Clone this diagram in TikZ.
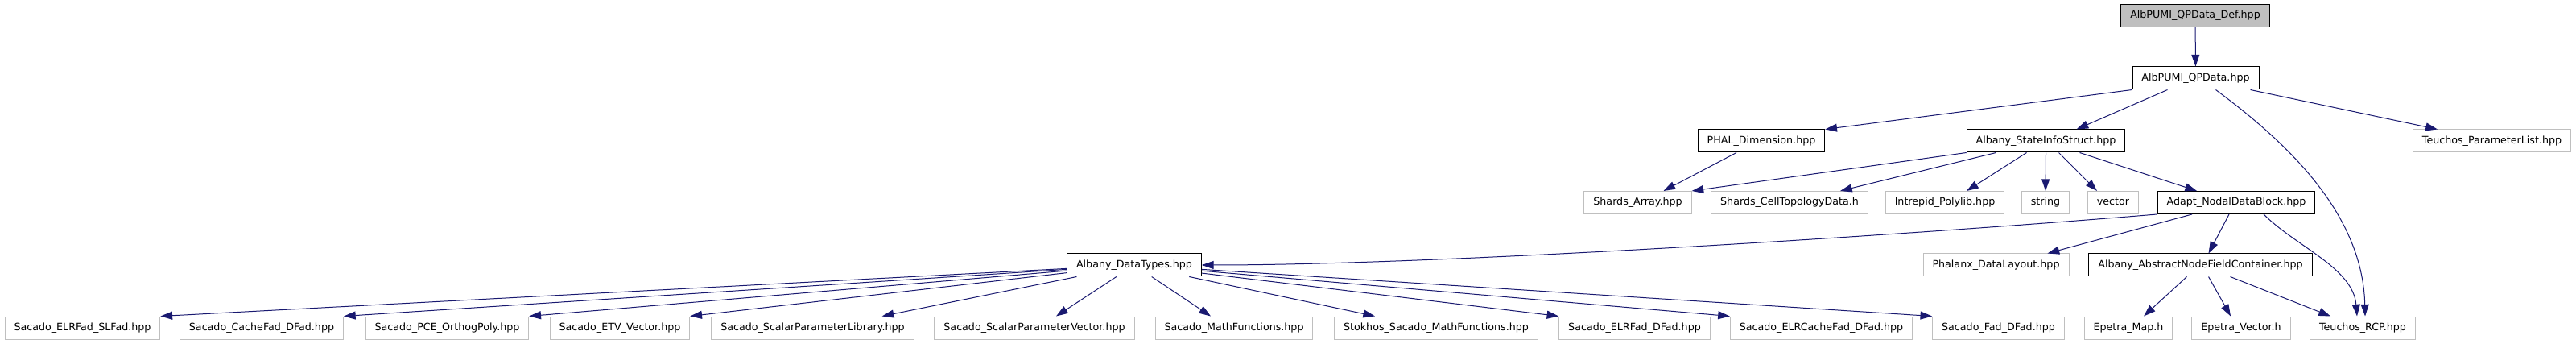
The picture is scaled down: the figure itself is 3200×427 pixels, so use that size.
\documentclass[tikz,border=0pt]{standalone}
\usepackage{fontspec}
\setmainfont{DejaVu Sans}
\usepackage{xcolor}
\usepackage{tikz}
\usetikzlibrary{arrows.meta,positioning,calc}
\definecolor{edgeblue}{RGB}{25,25,112}
\definecolor{boxgray}{RGB}{191,191,191}

\begin{document}
\begin{tikzpicture}[
      x=0.75pt, y=-0.75pt,
      basebox/.style={rectangle, draw=black, line width=0.75pt, inner xsep=8.6pt,
                      inner ysep=0pt, minimum height=21pt, text height=7pt,
                      text depth=2pt, font=\fontsize{9.5}{11}\selectfont},
      docfile/.style={basebox},
      extfile/.style={basebox, draw=boxgray},
      curfile/.style={basebox, fill=boxgray},
      dep/.style={-{Triangle[length=11pt, width=7.5pt]}, draw=edgeblue,
                  line width=0.75pt},
    ]
      \useasboundingbox (0,0) rectangle (3200,427);
      \node[curfile] (def) at (2727, 19.5) {AlbPUMI\_QPData\_Def.hpp};
      \node[docfile] (qpdata) at (2727.5, 97) {AlbPUMI\_QPData.hpp};
      \node[docfile] (phal) at (2188, 175) {PHAL\_Dimension.hpp};
      \node[docfile] (stateinfo) at (2541.5, 175) {Albany\_StateInfoStruct.hpp};
      \node[extfile] (paramlist) at (3095.5, 175) {Teuchos\_ParameterList.hpp};
      \node[extfile] (shardsarr) at (2034.5, 251.5) {Shards\_Array.hpp};
      \node[extfile] (celltopo) at (2223, 251.5) {Shards\_CellTopologyData.h};
      \node[extfile] (polylib) at (2416, 251.5) {Intrepid\_Polylib.hpp};
      \node[extfile] (stdstring) at (2541, 251.5) {string};
      \node[extfile] (stdvector) at (2625, 251.5) {vector};
      \node[docfile] (adapt) at (2778, 251.5) {Adapt\_NodalDataBlock.hpp};
      \node[docfile] (datatypes) at (1409, 329) {Albany\_DataTypes.hpp};
      \node[extfile] (phxlayout) at (2479.5, 329) {Phalanx\_DataLayout.hpp};
      \node[docfile] (nodefield) at (2733.5, 329)
            {Albany\_AbstractNodeFieldContainer.hpp};
      \node[extfile] (elrslfad) at (102.5, 407) {Sacado\_ELRFad\_SLFad.hpp};
      \node[extfile] (cachedfad) at (325, 407) {Sacado\_CacheFad\_DFad.hpp};
      \node[extfile] (pcepoly) at (555.5, 407) {Sacado\_PCE\_OrthogPoly.hpp};
      \node[extfile] (etvvec) at (770, 407) {Sacado\_ETV\_Vector.hpp};
      \node[extfile] (paramlib) at (1009.5, 407)
            {Sacado\_ScalarParameterLibrary.hpp};
      \node[extfile] (paramvec) at (1285, 407)
            {Sacado\_ScalarParameterVector.hpp};
      \node[extfile] (mathfn) at (1533, 407) {Sacado\_MathFunctions.hpp};
      \node[extfile] (stokhos) at (1784, 407)
            {Stokhos\_Sacado\_MathFunctions.hpp};
      \node[extfile] (elrdfad) at (2030.5, 407) {Sacado\_ELRFad\_DFad.hpp};
      \node[extfile] (elrcache) at (2262.5, 407) {Sacado\_ELRCacheFad\_DFad.hpp};
      \node[extfile] (faddfad) at (2482.5, 407) {Sacado\_Fad\_DFad.hpp};
      \node[extfile] (epmap) at (2644, 407) {Epetra\_Map.h};
      \node[extfile] (epvec) at (2784, 407) {Epetra\_Vector.h};
      \node[extfile] (rcp) at (2935, 407) {Teuchos\_RCP.hpp};
      \draw[dep] (def) -- (qpdata);
      \draw[dep] (qpdata.south west) -- (phal.north east);
      \draw[dep] ($(qpdata.south)+(-35,0)$) -- ($(stateinfo.north)+(38,0)$);
      \draw[dep] ($(qpdata.south)+(68,0)$) -- ($(paramlist.north west)+(31,0)$);
      \draw[dep] ($(qpdata.south)+(25,0)$) .. controls +(78,58) and +(-3,-133)
            .. ($(rcp.north)+(3,0)$);
      \draw[dep] ($(phal.south)+(-31,0)$) -- ($(shardsarr.north)+(32,0)$);
      \draw[dep] (stateinfo.south west) -- (shardsarr.north east);
      \draw[dep] ($(stateinfo.south)+(-62,0)$) -- ($(celltopo.north)+(63,0)$);
      \draw[dep] ($(stateinfo.south)+(-24,0)$) -- ($(polylib.north)+(27,0)$);
      \draw[dep] (stateinfo.south) -- (stdstring.north);
      \draw[dep] ($(stateinfo.south)+(16,0)$) -- ($(stdvector.north)+(-20,0)$);
      \draw[dep] ($(stateinfo.south)+(42,0)$) -- ($(adapt.north)+(-49,0)$);
      \draw[dep] (adapt.south west) .. controls +(-300,25) and +(300,0)
            .. (datatypes.east);
      \draw[dep] ($(adapt.south)+(-55,0)$) -- ($(phxlayout.north)+(64,0)$);
      \draw[dep] ($(adapt.south)+(-9,0)$) -- ($(nodefield.north)+(10,0)$);
      \draw[dep] ($(adapt.south)+(34,0)$) .. controls +(40,40) and +(-5,-60)
            .. ($(rcp.north)+(-7,0)$);
      \draw[dep] ($(nodefield.south)+(-17,0)$) -- ($(epmap.north)+(19,0)$);
      \draw[dep] ($(nodefield.south)+(10,0)$) -- ($(epvec.north)+(-13,0)$);
      \draw[dep] ($(nodefield.south)+(37,0)$) -- ($(rcp.north)+(-40,0)$);
      \draw[dep] (datatypes) -- (elrslfad.north east);
      \draw[dep] (datatypes) -- (cachedfad.north east);
      \draw[dep] (datatypes) -- (pcepoly.north east);
      \draw[dep] (datatypes) -- (etvvec.north east);
      \draw[dep] (datatypes) -- ($(paramlib.north east)+(-40,0)$);
      \draw[dep] (datatypes) -- ($(paramvec.north)+(27,0)$);
      \draw[dep] (datatypes) -- ($(mathfn.north)+(-29,0)$);
      \draw[dep] (datatypes) -- ($(stokhos.north)+(-76,0)$);
      \draw[dep] (datatypes) -- (elrdfad.north west);
      \draw[dep] (datatypes) -- (elrcache.north west);
      \draw[dep] (datatypes) -- (faddfad.north west);
    \end{tikzpicture}
\end{document}
